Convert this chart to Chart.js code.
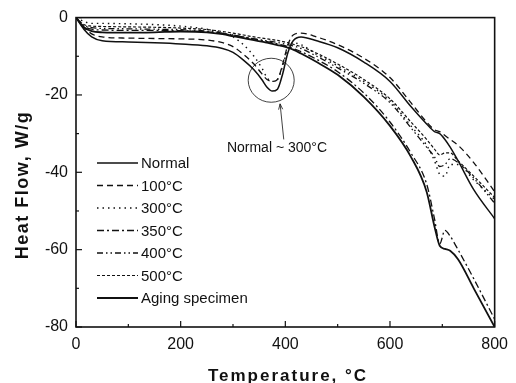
<!DOCTYPE html>
<html>
<head>
<meta charset="utf-8">
<script src="https://cdn.jsdelivr.net/npm/chart.js@4"></script>
<style>
  body { margin: 0; background: #fff; }
  #wrap { width: 516px; height: 383px; }
</style>
</head>
<body>
<div id="wrap"><canvas id="dscChart" width="516" height="383"></canvas></div>
<script>
// temperature grid (°C) shared by every curve
const temps = [0, 15, 30, 50, 100, 150, 200, 250, 280, 300, 320, 340, 355, 365, 375, 385, 395,
  405, 415, 430, 460, 500, 550, 600, 640, 670, 685, 695, 705, 715, 730, 760, 800];

// heat flow (W/g)
const normal = [0, -3, -5, -6, -6.3, -6.5, -6.8, -7.3, -8, -9, -11, -13.5, -16, -18, -19, -18.5, -14.5,
  -9, -6, -5, -6, -7.8, -11.5, -16.5, -23, -27.5, -29.5, -30, -31.5, -33.5, -37, -44.5, -52];
const t100 = [0, -2.5, -4.2, -5, -5.3, -5.4, -5.5, -5.8, -6.5, -7.5, -9.5, -12, -14.5, -16, -16.5, -16, -12,
  -7, -4.5, -4, -5, -7, -10.5, -15.5, -22, -27, -29, -29.5, -30.5, -31.5, -33, -37.5, -45];
const t300 = [0, -1, -1.5, -1.5, -1.6, -1.8, -2.2, -3, -4, -5, -7, -10, -13, -15.5, -16.5, -16, -12.5,
  -8, -6.5, -7, -9.5, -12.5, -16.5, -21.5, -28, -33, -37, -40.5, -41, -38, -38, -42, -47];
const t350 = [0, -2.2, -3, -3.2, -3.3, -3.3, -3.4, -3.7, -4.1, -4.5, -5, -5.5, -5.9, -6.2, -6.5, -6.8, -7.1,
  -7.5, -8, -8.8, -10.8, -14, -19.5, -27, -35, -43, -52, -58.5, -55, -56.5, -60, -67.5, -78];
const t400 = [0, -2, -2.6, -2.8, -2.9, -3, -3.1, -3.5, -4, -4.5, -5, -5.5, -5.8, -6, -6.2, -6.4, -6.7,
  -7, -7.3, -8, -10, -13, -17, -22, -28.5, -33.5, -36, -38.5, -38, -36.5, -37.5, -41.5, -48];
const t500 = [0, -1.8, -2.2, -2.3, -2.4, -2.5, -2.7, -3.1, -3.6, -4, -4.5, -5, -5.3, -5.5, -5.7, -5.9, -6.2,
  -6.5, -6.9, -7.5, -9.2, -12, -16, -21, -27, -31.5, -34, -35.5, -35, -35, -37, -41, -46.5];
const aging = [0, -2.5, -3.5, -3.8, -3.9, -3.8, -3.6, -3.8, -4.3, -4.8, -5.3, -5.8, -6.2, -6.5, -6.8, -7.1, -7.4,
  -7.8, -8.3, -9.3, -11.5, -14.8, -20.5, -28, -36, -45, -54, -59, -59.8, -60.3, -62.5, -70, -80];

const seriesLabels = ["Normal", "100°C", "300°C", "350°C", "400°C", "500°C", "Aging specimen"];
const seriesValues = [normal, t100, t300, t350, t400, t500, aging];
const seriesDash = [[], [6, 4], [1.5, 4], [7, 3, 2, 3], [6, 3, 1.5, 3, 1.5, 3], [3, 2], []];
const seriesWidth = [1.5, 1.3, 1.4, 1.3, 1.3, 1.2, 1.8];

const xTicks = [0, 200, 400, 600, 800];
const yTicks = [0, -20, -40, -60, -80];

// annotation (data coordinates)
const note = { text: "Normal ~ 300°C", at: [384, -34.7], circle: [373, -16.2], arrowFrom: [397, -31.5], arrowTo: [390, -22.3] };

const ink = "#111";
const baseFont = "'Liberation Sans', Arial, sans-serif";

const datasets = seriesLabels.map((label, i) => ({
  label: label,
  data: temps.map((t, k) => ({ x: t, y: seriesValues[i][k] })),
  borderColor: ink,
  borderWidth: seriesWidth[i],
  borderDash: seriesDash[i],
  pointRadius: 0,
  fill: false,
  cubicInterpolationMode: "monotone",
}));

const extras = {
  id: "extras",
  afterDraw(chart) {
    const ctx = chart.ctx;
    const a = chart.chartArea;
    const xs = chart.scales.x;
    const ys = chart.scales.y;
    ctx.save();
    ctx.strokeStyle = ink;
    ctx.fillStyle = ink;

    // frame
    ctx.lineWidth = 1.6;
    ctx.setLineDash([]);
    ctx.strokeRect(a.left, a.top, a.right - a.left, a.bottom - a.top);

    // inward ticks
    ctx.lineWidth = 1.2;
    for (let v = 0; v <= 800; v += 100) {
      const px = xs.getPixelForValue(v);
      const len = v % 200 === 0 ? 6 : 3;
      ctx.beginPath(); ctx.moveTo(px, a.bottom); ctx.lineTo(px, a.bottom - len); ctx.stroke();
    }
    for (let v = -80; v <= 0; v += 10) {
      const py = ys.getPixelForValue(v);
      const len = v % 20 === 0 ? 6 : 3;
      ctx.beginPath(); ctx.moveTo(a.left, py); ctx.lineTo(a.left + len, py); ctx.stroke();
    }

    // legend
    ctx.font = "15px " + baseFont;
    ctx.textBaseline = "middle";
    ctx.textAlign = "left";
    chart.data.datasets.forEach((ds, i) => {
      const y = 163 + i * 22.5;
      ctx.lineWidth = ds.borderWidth;
      ctx.setLineDash(ds.borderDash);
      ctx.beginPath(); ctx.moveTo(97, y); ctx.lineTo(138, y); ctx.stroke();
      ctx.setLineDash([]);
      ctx.fillText(ds.label, 141, y + 1);
    });

    // annotation circle, arrow and text
    ctx.lineWidth = 0.8;
    ctx.setLineDash([]);
    const cx = xs.getPixelForValue(note.circle[0]);
    const cy = ys.getPixelForValue(note.circle[1]);
    ctx.beginPath(); ctx.ellipse(cx, cy, 23, 22, 0, 0, Math.PI * 2); ctx.stroke();
    const fx = xs.getPixelForValue(note.arrowFrom[0]), fy = ys.getPixelForValue(note.arrowFrom[1]);
    const tx = xs.getPixelForValue(note.arrowTo[0]), ty = ys.getPixelForValue(note.arrowTo[1]);
    ctx.beginPath(); ctx.moveTo(fx, fy); ctx.lineTo(tx, ty); ctx.stroke();
    const ang = Math.atan2(ty - fy, tx - fx);
    ctx.beginPath();
    ctx.moveTo(tx - 6 * Math.cos(ang - 0.35), ty - 6 * Math.sin(ang - 0.35));
    ctx.lineTo(tx, ty);
    ctx.lineTo(tx - 6 * Math.cos(ang + 0.35), ty - 6 * Math.sin(ang + 0.35));
    ctx.stroke();
    ctx.font = "14px " + baseFont;
    ctx.textAlign = "center";
    ctx.textBaseline = "alphabetic";
    ctx.fillText(note.text, xs.getPixelForValue(note.at[0]), ys.getPixelForValue(note.at[1]));

    // axis titles
    ctx.font = "bold 17px " + baseFont;
    ctx.letterSpacing = "2px";
    ctx.fillText("Temperature, °C", 288, 381);
    ctx.translate(28, 185);
    ctx.rotate(-Math.PI / 2);
    ctx.font = "bold 18px " + baseFont;
    ctx.letterSpacing = "1.5px";
    ctx.fillText("Heat Flow, W/g", 0, 0);
    ctx.restore();
  },
};

const config = {
  type: "line",
  data: { datasets: datasets },
  options: {
    responsive: false,
    animation: false,
    devicePixelRatio: 1,
    layout: { padding: { left: 0, right: 14, top: 11, bottom: 0 } },
    plugins: { legend: { display: false }, tooltip: { enabled: false } },
    scales: {
      x: {
        type: "linear",
        min: 0,
        max: 800,
        afterFit: (s) => { s.height = 56; },
        afterBuildTicks: (s) => { s.ticks = xTicks.map((v) => ({ value: v })); },
        grid: { display: false, drawTicks: false },
        border: { display: false },
        ticks: { color: ink, padding: 8, font: { family: baseFont, size: 16 } },
      },
      y: {
        type: "linear",
        min: -80,
        max: 0,
        afterFit: (s) => { s.width = 76; },
        afterBuildTicks: (s) => { s.ticks = yTicks.map((v) => ({ value: v })); },
        grid: { display: false, drawTicks: false },
        border: { display: false },
        ticks: { color: ink, padding: 8, font: { family: baseFont, size: 16 } },
      },
    },
  },
  plugins: [extras],
};

const dscChart = new Chart(document.getElementById("dscChart").getContext("2d"), config);
</script>
</body>
</html>
